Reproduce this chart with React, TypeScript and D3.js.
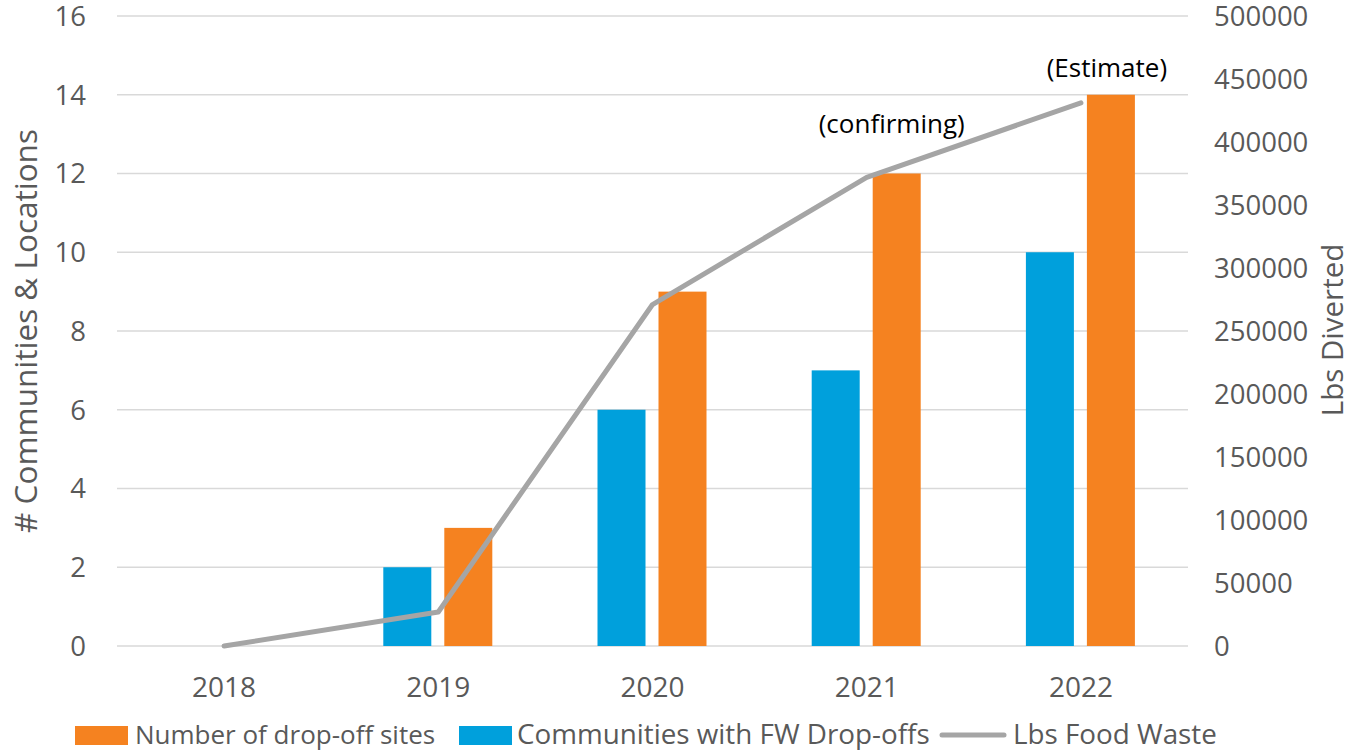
import React from "react";
import * as d3 from "d3";

// data
const years = ["2018", "2019", "2020", "2021", "2022"];
const communities = [0, 2, 6, 7, 10];
const dropOffSites = [0, 3, 9, 12, 14];
const lbsFoodWaste = [0, 27000, 271000, 372000, 431000];
const leftTicks = [0, 2, 4, 6, 8, 10, 12, 14, 16];
const rightTicks = [0, 50000, 100000, 150000, 200000, 250000, 300000, 350000, 400000, 450000, 500000];
const notes = [
  { year: "2021", text: "(confirming)" },
  { year: "2022", text: "(Estimate)" },
];

const W = 1352;
const H = 750;
const FONT = "'Open Sans', sans-serif";
const BLUE = "#00a0dc";
const ORANGE = "#f58220";
const GREY = "#a5a5a5";
const TXT = "#595959";

export default function App() {
  const left = 117, right = 1188, top = 16, bottom = 646;

  const x = d3.scaleBand().domain(years).range([left, right]);
  const yL = d3.scaleLinear().domain([0, 16]).range([bottom, top]);
  const yR = d3.scaleLinear().domain([0, 500000]).range([bottom, top]);

  const barW = 48;
  const cx = (y: string) => (x(y) as number) + x.bandwidth() / 2;

  const line = d3.line<number>()
    .x((_, i) => cx(years[i]))
    .y(d => yR(d));

  return (
    <svg width={W} height={H} style={{ position: "absolute", left: 0, top: 0, fontFamily: FONT }}>
      <rect width={W} height={H} fill="#fff" />
      {leftTicks.map(t => (
        <g key={t}>
          <line x1={left} x2={right} y1={yL(t)} y2={yL(t)} stroke="#d9d9d9" strokeWidth={1.5} />
          <text x={86} y={yL(t)} dy="0.36em" textAnchor="end" fontSize={27.5} fill={TXT}>{t}</text>
        </g>
      ))}
      {rightTicks.map(t => (
        <text key={t} x={1214} y={yR(t)} dy="0.36em" fontSize={27.5} fill={TXT}>{t}</text>
      ))}

      {years.map((y, i) => (
        <g key={y}>
          {communities[i] > 0 && (
            <rect x={cx(y) - 31 - barW / 2} y={yL(communities[i])} width={barW}
              height={bottom - yL(communities[i])} fill={BLUE} />
          )}
          {dropOffSites[i] > 0 && (
            <rect x={cx(y) + 30 - barW / 2} y={yL(dropOffSites[i])} width={barW}
              height={bottom - yL(dropOffSites[i])} fill={ORANGE} />
          )}
          <text x={cx(y)} y={697} textAnchor="middle" fontSize={28} fill={TXT}>{y}</text>
        </g>
      ))}

      <path d={line(lbsFoodWaste) || ""} fill="none" stroke={GREY} strokeWidth={5} strokeLinejoin="round" strokeLinecap="round" />

      {notes.map(n => {
        const i = years.indexOf(n.year);
        return (
          <text key={n.text} x={cx(n.year) + (i === 4 ? 26 : 25)} y={yR(lbsFoodWaste[i]) - (i === 4 ? 26 : 44)}
            textAnchor="middle" fontSize={26} fill="#000">{n.text}</text>
        );
      })}

      <text transform="translate(37,331) rotate(-90)" textAnchor="middle" fontSize={31.5} fill={TXT}>
        # Communities &amp; Locations
      </text>
      <text transform="translate(1343,330) rotate(-90)" textAnchor="middle" fontSize={29.5} fill={TXT}>
        Lbs Diverted
      </text>

      {/* legend */}
      <g fill={TXT}>
        <rect x={75} y={726} width={53} height={19} fill={ORANGE} />
        <text x={135} y={744} fontSize={26}>Number of drop-off sites</text>
        <rect x={459} y={726} width={53} height={19} fill={BLUE} />
        <text x={517} y={744} fontSize={27.8}>Communities with FW Drop-offs</text>
        <line x1={942} x2={1004} y1={735} y2={735} stroke={GREY} strokeWidth={5} strokeLinecap="round" />
        <text x={1013} y={744} fontSize={27.8}>Lbs Food Waste</text>
      </g>
    </svg>
  );
}
